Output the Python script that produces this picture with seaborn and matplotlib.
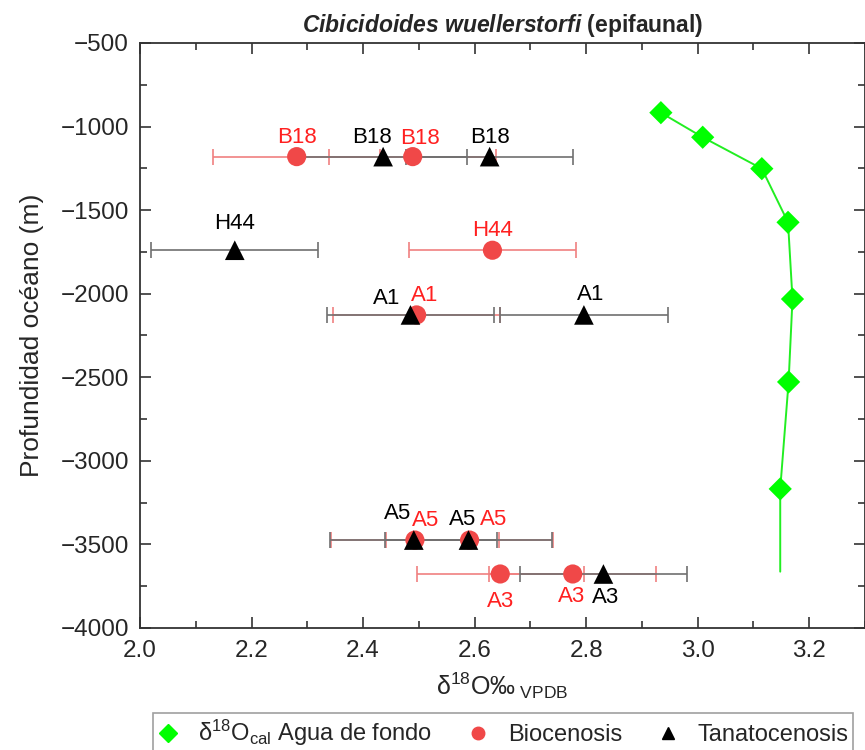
import matplotlib
matplotlib.use("Agg")
import matplotlib.pyplot as plt
from matplotlib.ticker import MultipleLocator
import seaborn as sns
import pandas as pd

# agua de fondo (calculada)
agua_x = [2.934, 3.009, 3.115, 3.162, 3.170, 3.163, 3.148]
agua_y = [-917, -1064, -1252, -1573, -2032, -2528, -3168]
# the curve keeps going below the last diamond
agua_fin = (3.148, -3663)

# biocenosis
bio_site = ["B18", "B18", "H44", "A1", "A5", "A5", "A3", "A3"]
bio_x = [2.281, 2.489, 2.632, 2.496, 2.493, 2.591, 2.646, 2.776]
bio_y = [-1180, -1180, -1740, -2127, -3474, -3474, -3677, -3677]

# tanatocenosis
tana_site = ["B18", "B18", "H44", "A1", "A1", "A5", "A5", "A3"]
tana_x = [2.436, 2.627, 2.170, 2.485, 2.796, 2.491, 2.589, 2.831]
tana_y = [-1180, -1180, -1740, -2127, -2127, -3474, -3474, -3677]

err = 0.15

# label offsets (points, centre of text) for each point
bio_off = [(0, 14), (5, 13), (0, 14), (6, 14), (8, 14), (17, 15), (0, -20), (-1, -16)]
tana_off = [(-8, 14), (0, 14), (0, 19), (-17, 12), (5, 14.5), (-11.5, 19), (-4.5, 14.5), (1.5, -17)]

sns.set_style("ticks")
plt.rcParams["font.family"] = ["Liberation Sans", "DejaVu Sans"]
plt.rcParams["mathtext.fontset"] = "custom"
plt.rcParams["mathtext.rm"] = "Liberation Sans"
plt.rcParams["mathtext.it"] = "Liberation Sans:italic"
plt.rcParams["mathtext.bf"] = "Liberation Sans:bold"
plt.rcParams["mathtext.bfit"] = "Liberation Sans:italic:bold"

fig = plt.figure(figsize=(8.65, 7.5), dpi=100)
ax = fig.add_axes([0.1618, 0.1627, 0.8382, 0.78])

red = "#f04848"

ax.errorbar(bio_x, bio_y, xerr=err, fmt="none", ecolor="#f08080",
            elinewidth=1.2, capsize=6, capthick=1.2, zorder=1)
ax.errorbar(tana_x, tana_y, xerr=err, fmt="none", ecolor="#707070",
            elinewidth=1.2, capsize=6, capthick=1.2, zorder=2)

line_df = pd.DataFrame({"x": agua_x + [agua_fin[0]], "y": agua_y + [agua_fin[1]]})
sns.lineplot(data=line_df, x="x", y="y", sort=False, estimator=None,
             color="#22ee22", linewidth=1.4, ax=ax, zorder=3)
sns.scatterplot(x=agua_x, y=agua_y, marker="D", s=140, color="#00ff00",
                edgecolor="none", ax=ax, zorder=4)
sns.scatterplot(x=bio_x, y=bio_y, marker="o", s=190, color=red,
                edgecolor="none", ax=ax, zorder=4)
sns.scatterplot(x=tana_x, y=tana_y, marker="^", s=200, color="black",
                edgecolor="none", ax=ax, zorder=5)

for s, x, y, o in zip(bio_site, bio_x, bio_y, bio_off):
    ax.annotate(s, (x, y), xytext=o, textcoords="offset points",
                ha="center", va="center", fontsize=16, color="#ff2020")
for s, x, y, o in zip(tana_site, tana_x, tana_y, tana_off):
    ax.annotate(s, (x, y), xytext=o, textcoords="offset points",
                ha="center", va="center", fontsize=16, color="black")

ax.set_xlim(2.0, 3.3)
ax.set_ylim(-4000, -500)
ax.xaxis.set_major_locator(MultipleLocator(0.2))
ax.xaxis.set_minor_locator(MultipleLocator(0.1))
ax.yaxis.set_major_locator(MultipleLocator(500))
ax.yaxis.set_minor_locator(MultipleLocator(250))
ax.tick_params(which="both", direction="in", top=True, right=True,
               labelsize=17.5, width=1.2, color="#333333")
ax.tick_params(which="major", length=8)
ax.tick_params(which="minor", length=5)
ax.tick_params(axis="y", pad=8)
ax.tick_params(axis="x", pad=9)
for sp in ax.spines.values():
    sp.set_linewidth(1.3)
    sp.set_color("#333333")

ax.set_xlabel("δ$^{18}$O‰$_{\\rm\\ VPDB}$", fontsize=18, labelpad=6)
ax.set_ylabel("Profundidad océano (m)", fontsize=19, labelpad=12)
ax.set_title(r"$\mathbfit{Cibicidoides\ wuellerstorfi}$ (epifaunal)",
             fontsize=16.5, fontweight="bold", pad=8)

handles = [
    plt.Line2D([], [], marker="D", color="#00ff00", linestyle="none", markersize=9),
    plt.Line2D([], [], marker="o", color=red, linestyle="none", markersize=9),
    plt.Line2D([], [], marker="^", color="black", linestyle="none", markersize=9),
]
labels = ["δ$^{18}$O$_{\\rm cal}$ Agua de fondo", "Biocenosis", "Tanatocenosis"]
leg = fig.legend(handles, labels, ncol=3, loc="upper left",
                 bbox_to_anchor=(0.177, 0.049), borderaxespad=0,
                 fontsize=17, frameon=True, fancybox=False,
                 edgecolor="#888888", handletextpad=0.8,
                 columnspacing=1.5, borderpad=0.2, handlelength=0.9)
leg.get_frame().set_linewidth(1.2)

fig.savefig("out.png", dpi=100)
